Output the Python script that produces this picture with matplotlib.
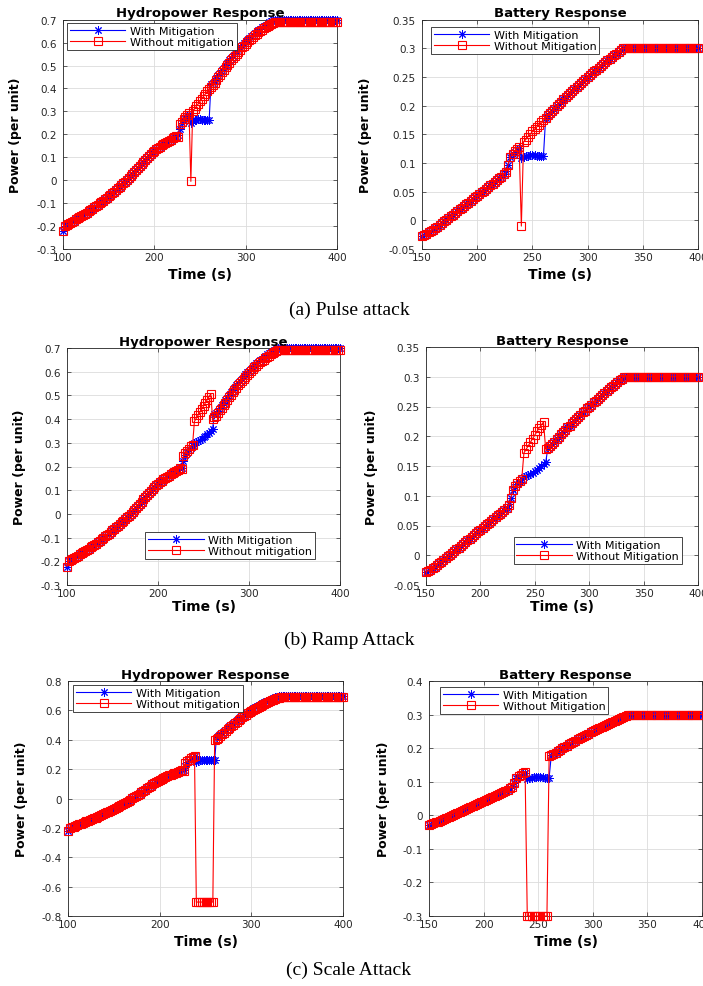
import numpy as np
import matplotlib
matplotlib.use('Agg')
import matplotlib.pyplot as plt
from matplotlib.font_manager import fontManager

plt.rcParams['axes.unicode_minus'] = False

# ---------------- data ----------------
t_hydro = np.arange(100, 401, 2)
t_batt = np.arange(150, 401, 2)

# hydropower, t = 100..224 (shared)
hydro_pre = [-0.222, -0.200, -0.196, -0.191, -0.186, -0.181, -0.176, -0.171, -0.166, -0.161,
             -0.156, -0.151, -0.146, -0.141, -0.136, -0.130, -0.125, -0.119, -0.113, -0.107,
             -0.101, -0.095, -0.089, -0.083, -0.077, -0.070, -0.064, -0.057, -0.050, -0.043,
             -0.036, -0.029, -0.022, -0.014, -0.007, 0.001, 0.009, 0.017, 0.025, 0.034,
             0.043, 0.052, 0.061, 0.070, 0.079, 0.088, 0.097, 0.105, 0.113, 0.121,
             0.128, 0.134, 0.140, 0.146, 0.152, 0.157, 0.162, 0.167, 0.172, 0.177,
             0.182, 0.187, 0.192]
# hydropower, t = 264..400
hydro_post_with = [0.425, 0.436, 0.447, 0.458, 0.469, 0.480, 0.491, 0.502, 0.513, 0.523,
                   0.533, 0.543, 0.553, 0.562, 0.571, 0.580, 0.589, 0.597, 0.605, 0.613,
                   0.621, 0.628, 0.635, 0.642, 0.649, 0.655, 0.661, 0.667, 0.673, 0.678,
                   0.683, 0.688, 0.693, 0.697, 0.700] + [0.700] * 34
hydro_post_without = [0.415, 0.426, 0.437, 0.448, 0.459, 0.470, 0.481, 0.492, 0.503, 0.513,
                      0.523, 0.533, 0.543, 0.552, 0.561, 0.570, 0.579, 0.587, 0.595, 0.603,
                      0.611, 0.618, 0.625, 0.632, 0.639, 0.645, 0.651, 0.657, 0.663, 0.668,
                      0.673, 0.678, 0.683, 0.687, 0.690] + [0.690] * 34
# hydropower attack window, t = 226..262
hydro_pulse_with = [0.195, 0.222, 0.248, 0.258, 0.268, 0.278, 0.288, 0.250, 0.258, 0.262,
                    0.264, 0.265, 0.265, 0.264, 0.263, 0.262, 0.261, 0.261, 0.420]
hydro_pulse_without = [0.190, 0.245, 0.255, 0.265, 0.275, 0.285, 0.292, -0.005, 0.300, 0.311,
                       0.322, 0.333, 0.344, 0.355, 0.366, 0.377, 0.388, 0.399, 0.408]
hydro_ramp_with = [0.195, 0.222, 0.248, 0.258, 0.268, 0.278, 0.290, 0.300, 0.304, 0.308,
                   0.313, 0.318, 0.323, 0.329, 0.336, 0.343, 0.351, 0.360, 0.420]
hydro_ramp_without = [0.190, 0.245, 0.255, 0.265, 0.275, 0.285, 0.292, 0.390, 0.403, 0.416,
                      0.429, 0.442, 0.455, 0.468, 0.481, 0.494, 0.508, 0.400, 0.408]
hydro_scale_with = [0.195, 0.222, 0.248, 0.258, 0.268, 0.278, 0.288, 0.250, 0.258, 0.262,
                    0.264, 0.265, 0.265, 0.264, 0.263, 0.262, 0.261, 0.261, 0.420]
hydro_scale_without = [0.190, 0.245, 0.255, 0.265, 0.275, 0.285, 0.292, -0.705, -0.705, -0.705,
                       -0.705, -0.705, -0.705, -0.705, -0.705, -0.705, -0.705, 0.400, 0.408]

# battery, t = 150..224 (shared)
batt_pre = [-0.028, -0.026, -0.024, -0.021, -0.019, -0.016, -0.013, -0.011, -0.008, -0.005,
            -0.002, 0.001, 0.004, 0.007, 0.010, 0.013, 0.016, 0.019, 0.022, 0.025,
            0.028, 0.031, 0.034, 0.037, 0.040, 0.043, 0.046, 0.049, 0.052, 0.055,
            0.058, 0.061, 0.064, 0.067, 0.070, 0.073, 0.076, 0.080]
# battery, t = 264..400
batt_post = [0.183, 0.187, 0.191, 0.195, 0.199, 0.203, 0.207, 0.211, 0.215, 0.218,
             0.222, 0.226, 0.229, 0.233, 0.236, 0.240, 0.243, 0.247, 0.250, 0.253,
             0.257, 0.260, 0.263, 0.266, 0.270, 0.273, 0.276, 0.279, 0.282, 0.285,
             0.288, 0.291, 0.294, 0.297, 0.300] + [0.300] * 34
# battery attack window, t = 226..262
batt_pulse_with = [0.086, 0.097, 0.110, 0.115, 0.119, 0.123, 0.126, 0.108, 0.110, 0.112,
                   0.113, 0.114, 0.114, 0.114, 0.113, 0.112, 0.112, 0.112, 0.179]
batt_pulse_without = [0.084, 0.097, 0.110, 0.116, 0.121, 0.125, 0.128, -0.010, 0.137, 0.141,
                      0.146, 0.150, 0.155, 0.159, 0.163, 0.167, 0.171, 0.175, 0.179]
batt_ramp_with = [0.086, 0.097, 0.110, 0.115, 0.119, 0.123, 0.128, 0.132, 0.134, 0.135,
                  0.137, 0.139, 0.141, 0.144, 0.147, 0.150, 0.153, 0.156, 0.180]
batt_ramp_without = [0.084, 0.097, 0.110, 0.116, 0.121, 0.125, 0.128, 0.172, 0.178, 0.184,
                     0.190, 0.196, 0.202, 0.208, 0.214, 0.219, 0.224, 0.178, 0.180]
batt_scale_with = [0.086, 0.097, 0.110, 0.115, 0.119, 0.123, 0.126, 0.108, 0.110, 0.112,
                   0.113, 0.114, 0.114, 0.114, 0.113, 0.112, 0.112, 0.112, 0.179]
batt_scale_without = [0.084, 0.097, 0.110, 0.116, 0.121, 0.125, 0.128, -0.300, -0.300, -0.300,
                      -0.300, -0.300, -0.300, -0.300, -0.300, -0.300, -0.300, 0.177, 0.180]

hydro_xticks = [100, 200, 300, 400]
batt_xticks = [150, 200, 250, 300, 350, 400]
hydro_yticks_ab = [-0.3, -0.2, -0.1, 0, 0.1, 0.2, 0.3, 0.4, 0.5, 0.6, 0.7]
hydro_ylabels_ab = ['-0.3', '-0.2', '-0.1', '0', '0.1', '0.2', '0.3', '0.4', '0.5', '0.6', '0.7']
hydro_yticks_c = [-0.8, -0.6, -0.4, -0.2, 0, 0.2, 0.4, 0.6, 0.8]
hydro_ylabels_c = ['-0.8', '-0.6', '-0.4', '-0.2', '0', '0.2', '0.4', '0.6', '0.8']
batt_yticks_ab = [-0.05, 0, 0.05, 0.1, 0.15, 0.2, 0.25, 0.3, 0.35]
batt_ylabels_ab = ['-0.05', '0', '0.05', '0.1', '0.15', '0.2', '0.25', '0.3', '0.35']
batt_yticks_c = [-0.3, -0.2, -0.1, 0, 0.1, 0.2, 0.3, 0.4]
batt_ylabels_c = ['-0.3', '-0.2', '-0.1', '0', '0.1', '0.2', '0.3', '0.4']

captions = ['(a) Pulse attack', '(b) Ramp Attack', '(c) Scale Attack']

# ---------------- figure ----------------
W, H = 703, 987
fig = plt.figure(figsize=(W / 100, H / 100), dpi=100)
names = {f.name for f in fontManager.ttflist}
narrow = 'Liberation Sans Narrow' if 'Liberation Sans Narrow' in names else 'DejaVu Sans'
DARK = '#262626'


def fx(px):
    return px / W


def fy(py):
    return 1 - py / H


panels = [
    dict(box=(63, 20.7, 337, 250), kind='hydro', w=hydro_pulse_with, wo=hydro_pulse_without,
         yt=hydro_yticks_ab, yl=hydro_ylabels_ab, ylim=(-0.3, 0.7), leg=('upper left', 67, 24),
         ylx=16, xly=275),
    dict(box=(422, 20.7, 698, 250), kind='batt', w=batt_pulse_with, wo=batt_pulse_without,
         yt=batt_yticks_ab, yl=batt_ylabels_ab, ylim=(-0.05, 0.35), leg=('upper left', 431, 28),
         ylx=366, xly=275),
    dict(box=(67, 349, 340, 586), kind='hydro', w=hydro_ramp_with, wo=hydro_ramp_without,
         yt=hydro_yticks_ab, yl=hydro_ylabels_ab, ylim=(-0.3, 0.7), leg=('lower right', 315, 560),
         ylx=20, xly=607),
    dict(box=(426, 348, 698, 586), kind='batt', w=batt_ramp_with, wo=batt_ramp_without,
         yt=batt_yticks_ab, yl=batt_ylabels_ab, ylim=(-0.05, 0.35), leg=('lower right', 682, 565),
         ylx=371, xly=607),
    dict(box=(68, 682, 343, 917), kind='hydro', w=hydro_scale_with, wo=hydro_scale_without,
         yt=hydro_yticks_c, yl=hydro_ylabels_c, ylim=(-0.8, 0.8), leg=('upper left', 73, 686),
         ylx=22, xly=942),
    dict(box=(429, 682, 702, 917), kind='batt', w=batt_scale_with, wo=batt_scale_without,
         yt=batt_yticks_c, yl=batt_ylabels_c, ylim=(-0.3, 0.4), leg=('upper left', 440, 688),
         ylx=383, xly=942),
]

for p in panels:
    x0, y0, x1, y1 = p['box']
    ax = fig.add_axes([fx(x0), fy(y1), (x1 - x0) / W, (y1 - y0) / H])
    if p['kind'] == 'hydro':
        t = t_hydro
        yw = np.concatenate([hydro_pre, p['w'], hydro_post_with])
        ywo = np.concatenate([hydro_pre, p['wo'], hydro_post_without])
        xt = hydro_xticks
        xlim = (100, 400)
        title = 'Hydropower Response'
        labels = ['With Mitigation', 'Without mitigation']
    else:
        t = t_batt
        yw = np.concatenate([batt_pre, p['w'], batt_post])
        ywo = np.concatenate([batt_pre, p['wo'], batt_post])
        xt = batt_xticks
        xlim = (150, 400)
        title = 'Battery Response'
        labels = ['With Mitigation', 'Without Mitigation']

    ax.plot(t, yw, color='#0000ff', marker=(8, 2, 0), ms=6, mew=0.7, lw=0.8,
            clip_on=False, label=labels[0], zorder=3)
    ax.plot(t, ywo, color='#ff0000', marker='s', ms=5.5, mfc='none', mew=0.8, lw=0.8,
            clip_on=False, label=labels[1], zorder=4)

    ax.set_xlim(*xlim)
    ax.set_ylim(*p['ylim'])
    ax.set_xticks(xt)
    ax.set_xticklabels([str(v) for v in xt])
    ax.set_yticks(p['yt'])
    ax.set_yticklabels(p['yl'])
    ax.grid(True, color='#dcdcdc', lw=0.6)
    ax.set_axisbelow(True)
    for s in ax.spines.values():
        s.set_color(DARK)
        s.set_linewidth(0.6)
    ax.tick_params(direction='in', length=3, width=0.5, top=True, right=True,
                   colors=DARK, labelsize=7.5)
    ax.tick_params(axis='y', pad=4.5)
    ax.tick_params(axis='x', pad=2.5)
    for lab in ax.get_xticklabels() + ax.get_yticklabels():
        lab.set_family('DejaVu Sans')

    ax.set_title(title, fontsize=9.5, fontweight='bold', family='DejaVu Sans', pad=2.5)
    ax.set_xlabel('Time (s)', fontsize=10, fontweight='bold', family='DejaVu Sans', va='center')
    ax.xaxis.set_label_coords(0.5, (y1 - p['xly']) / (y1 - y0))
    ax.set_ylabel('Power (per unit)', fontsize=9, fontweight='bold', family=narrow, va='center')
    ax.yaxis.set_label_coords((p['ylx'] - x0) / (x1 - x0), 0.5)

    loc, lx, ly = p['leg']
    leg = ax.legend(loc=loc, bbox_to_anchor=(fx(lx), fy(ly)), bbox_transform=fig.transFigure,
                    borderaxespad=0, handlelength=5.0, handletextpad=0.4,
                    borderpad=0.25, labelspacing=0.1, fancybox=False, framealpha=1,
                    edgecolor=DARK, prop={'family': 'DejaVu Sans', 'size': 8})
    leg.get_frame().set_linewidth(0.6)

cap_y = [310, 640, 970]
for c, yy in zip(captions, cap_y):
    fig.text(fx(349), fy(yy), c, ha='center', va='center', fontsize=14,
             family='Liberation Serif')

fig.savefig('out.png', dpi=100)
